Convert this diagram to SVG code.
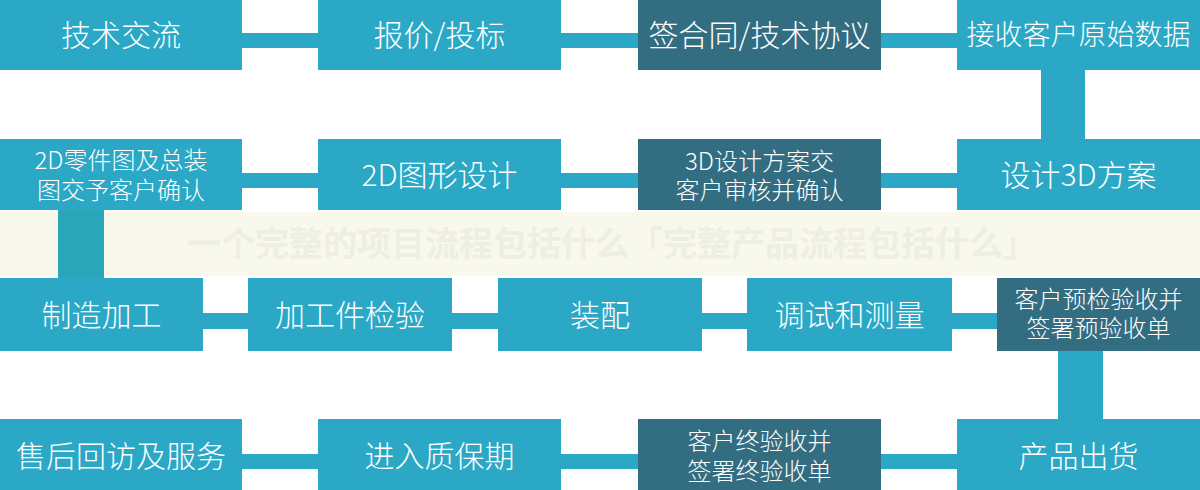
<svg xmlns="http://www.w3.org/2000/svg" width="1200" height="490" viewBox="0 0 1200 490">
<style>
.bg{fill:#ffffff}
.band{fill:#f8f9ec}
.wm{font-family:"Noto Sans CJK SC",sans-serif;font-size:34px;font-weight:700;fill:#eeeee2;text-anchor:middle}
.t{fill:#2aa8c6}
.d{fill:#336d81}
.c{fill:#2aa8c6}
.lbl{font-family:"Noto Sans CJK SC",sans-serif;font-weight:300;fill:#ffffff;text-anchor:middle;font-size:30px}
.sm{font-size:24px}
.md{font-size:28px}
</style>
<rect class="bg" x="0" y="0" width="1200" height="490"/>
<rect class="band" x="0" y="212" width="1200" height="64"/>
<text class="wm" x="612" y="256">一个完整的项目流程包括什么「完整产品流程包括什么」</text>
<g id="connectors">
<rect class="c" x="240" y="33" width="80" height="15"/>
<rect class="c" x="559" y="33" width="81" height="15"/>
<rect class="c" x="879" y="33" width="80" height="15"/>
<rect class="c" x="1041" y="68" width="44" height="73"/>
<rect class="c" x="240" y="173" width="80" height="15"/>
<rect class="c" x="559" y="173" width="81" height="15"/>
<rect class="c" x="879" y="173" width="80" height="15"/>
<rect class="c" x="58" y="208" width="46" height="72" style="fill:#2ba6b8"/>
<rect class="c" x="201" y="313" width="49" height="16"/>
<rect class="c" x="450" y="313" width="50" height="16"/>
<rect class="c" x="700" y="313" width="49" height="16"/>
<rect class="c" x="950" y="313" width="49" height="16"/>
<rect class="c" x="1058" y="349" width="45" height="72"/>
<rect class="c" x="240" y="454" width="80" height="15"/>
<rect class="c" x="559" y="454" width="81" height="15"/>
<rect class="c" x="879" y="454" width="80" height="15"/>
</g>
<g id="n1"><rect class="t" x="0" y="0" width="242" height="70"/><text class="lbl" x="121" y="46">技术交流</text></g>
<g id="n2"><rect class="t" x="318" y="0" width="243" height="70"/><text class="lbl" x="439.5" y="46">报价/投标</text></g>
<g id="n3"><rect class="d" x="638" y="0" width="243" height="70"/><text class="lbl" x="759.5" y="46">签合同/技术协议</text></g>
<g id="n4"><rect class="t" x="957" y="0" width="243" height="70"/><text class="lbl md" x="1078.5" y="45">接收客户原始数据</text></g>
<g id="n5"><rect class="t" x="957" y="139" width="243" height="71"/><text class="lbl" x="1078.5" y="186">设计3D方案</text></g>
<g id="n6"><rect class="d" x="638" y="139" width="243" height="71"/><text class="lbl sm" x="759.5" y="170">3D设计方案交</text><text class="lbl sm" x="759.5" y="199">客户审核并确认</text></g>
<g id="n7"><rect class="t" x="318" y="139" width="243" height="71"/><text class="lbl" x="439.5" y="186">2D图形设计</text></g>
<g id="n8"><rect class="t" x="0" y="139" width="242" height="71"/><text class="lbl sm" x="121" y="169">2D零件图及总装</text><text class="lbl sm" x="121" y="199">图交予客户确认</text></g>
<g id="n9"><rect class="t" x="0" y="278" width="203" height="73"/><text class="lbl" x="101.5" y="326">制造加工</text></g>
<g id="n10"><rect class="t" x="248" y="278" width="204" height="73"/><text class="lbl" x="350" y="326">加工件检验</text></g>
<g id="n11"><rect class="t" x="498" y="278" width="204" height="73"/><text class="lbl" x="600" y="326">装配</text></g>
<g id="n12"><rect class="t" x="747" y="278" width="205" height="73"/><text class="lbl" x="849.5" y="326">调试和测量</text></g>
<g id="n13"><rect class="d" x="997" y="278" width="203" height="73"/><text class="lbl sm" x="1098.5" y="308">客户预检验收并</text><text class="lbl sm" x="1098.5" y="337">签署预验收单</text></g>
<g id="n14"><rect class="t" x="957" y="419" width="243" height="71"/><text class="lbl" x="1078.5" y="467">产品出货</text></g>
<g id="n15"><rect class="d" x="638" y="419" width="243" height="71"/><text class="lbl sm" x="759.5" y="450">客户终验收并</text><text class="lbl sm" x="759.5" y="480">签署终验收单</text></g>
<g id="n16"><rect class="t" x="318" y="419" width="243" height="71"/><text class="lbl" x="439.5" y="467">进入质保期</text></g>
<g id="n17"><rect class="t" x="0" y="419" width="242" height="71"/><text class="lbl" x="121" y="467">售后回访及服务</text></g>
</svg>
